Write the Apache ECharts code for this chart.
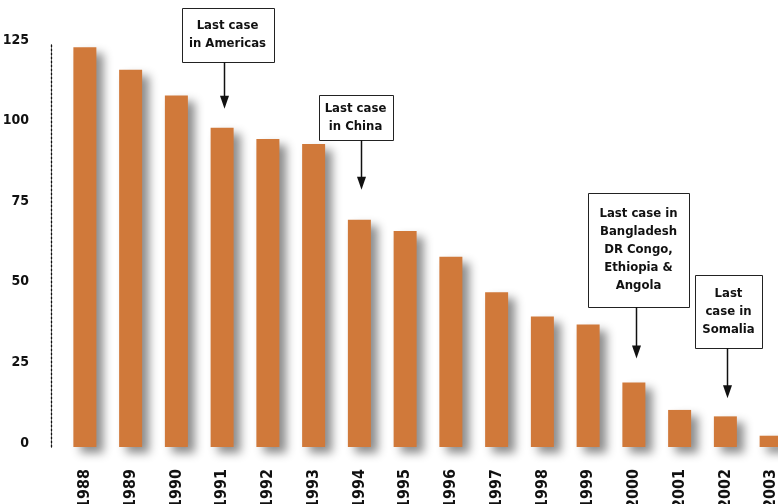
<!DOCTYPE html>
<html>
<head>
<meta charset="utf-8">
<script src="https://cdn.jsdelivr.net/npm/echarts@6/dist/echarts.min.js"></script>
<style>
  html, body { margin: 0; padding: 0; background: #fff; }
  #chart { width: 778px; height: 504px; }
</style>
</head>
<body>
<div id="chart"></div>
<script>
// data
const years = ['1988', '1989', '1990', '1991', '1992', '1993', '1994', '1995',
               '1996', '1997', '1998', '1999', '2000', '2001', '2002', '2003']
const cases = [124, 117, 109, 99, 95.5, 94, 70.5, 67, 59, 48, 40.5, 38, 20, 11.5, 9.5, 3.5]
const noteYears = ['1991', '1994', '2000', '2002']
const noteTexts = [
    'Last case\nin Americas',
    'Last case\nin China',
    'Last case in\nBangladesh\nDR Congo,\nEthiopia &\nAngola',
    'Last\ncase in\nSomalia'
]

// box layout for each note (pixels)
const noteLayout = [
    { w: 92, h: 54, top: 8, dx: 3, gap: 19 },
    { w: 74, h: 45, top: 95, dx: -6, gap: 30 },
    { w: 101, h: 114, top: 193, dx: 2, gap: 24 },
    { w: 67, h: 73, top: 275, dx: 1, gap: 18 }
]

const FONT = '"Liberation Sans Narrow", "DejaVu Sans Condensed", sans-serif'

let myChart = echarts.init(document.getElementById('chart'))
let option = {
    animation: false,
    grid: { left: 62, right: -16, top: 44, bottom: 57, outerBoundsMode: 'none', containLabel: false },
    xAxis: {
        type: 'category',
        data: years,
        axisLine: { show: false },
        axisTick: { show: false },
        axisLabel: {
            rotate: 90,
            margin: 22,
            color: '#111',
            fontFamily: FONT,
            fontWeight: 'bold',
            fontSize: 16
        }
    },
    yAxis: {
        type: 'value',
        min: 0,
        max: 125,
        interval: 25,
        offset: 11,
        splitLine: { show: false },
        axisTick: { show: false },
        axisLine: { show: true, lineStyle: { color: '#111', type: [2, 2], width: 1.3 } },
        axisLabel: {
            margin: 22,
            color: '#111',
            fontFamily: FONT,
            fontWeight: 'bold',
            fontSize: 14,
            lineHeight: 8,
            verticalAlign: 'bottom'
        }
    },
    series: [
        {
            type: 'bar',
            data: cases,
            barWidth: 23,
            itemStyle: {
                color: '#D0793A',
                shadowColor: 'rgba(0,0,0,0.45)',
                shadowBlur: 10,
                shadowOffsetX: 7,
                shadowOffsetY: 6
            }
        }
    ]
}
myChart.setOption(option)

// annotation boxes with arrows, placed from the axes
let elements = []
noteYears.forEach(function (yr, i) {
    let idx = years.indexOf(yr)
    let p = myChart.convertToPixel({ xAxisIndex: 0, yAxisIndex: 0 }, [yr, cases[idx]])
    let L = noteLayout[i]
    let ax = Math.round(p[0]) + 2.5
    let tipY = p[1] - L.gap
    let bx = ax + L.dx - L.w / 2
    let boxBottom = L.top + L.h
    elements.push({
        type: 'rect',
        shape: { x: Math.round(bx) + 0.5, y: L.top + 0.5, width: L.w, height: L.h },
        style: { fill: '#fff', stroke: '#222', lineWidth: 1 },
        z: 10
    })
    elements.push({
        type: 'text',
        x: bx + L.w / 2,
        y: L.top + L.h / 2,
        style: {
            text: noteTexts[i],
            fill: '#111',
            font: 'bold 13px ' + FONT,
            lineHeight: 18,
            align: 'center',
            verticalAlign: 'middle'
        },
        z: 11
    })
    elements.push({
        type: 'line',
        shape: { x1: ax, y1: boxBottom, x2: ax, y2: tipY - 10 },
        style: { stroke: '#111', lineWidth: 1.5 },
        z: 10
    })
    elements.push({
        type: 'polygon',
        shape: { points: [[ax - 4.5, tipY - 13], [ax + 4.5, tipY - 13], [ax, tipY]] },
        style: { fill: '#111' },
        z: 10
    })
})
myChart.setOption({ graphic: elements })

window.addEventListener('resize', function () {
    myChart.resize()
})
</script>
</body>
</html>
